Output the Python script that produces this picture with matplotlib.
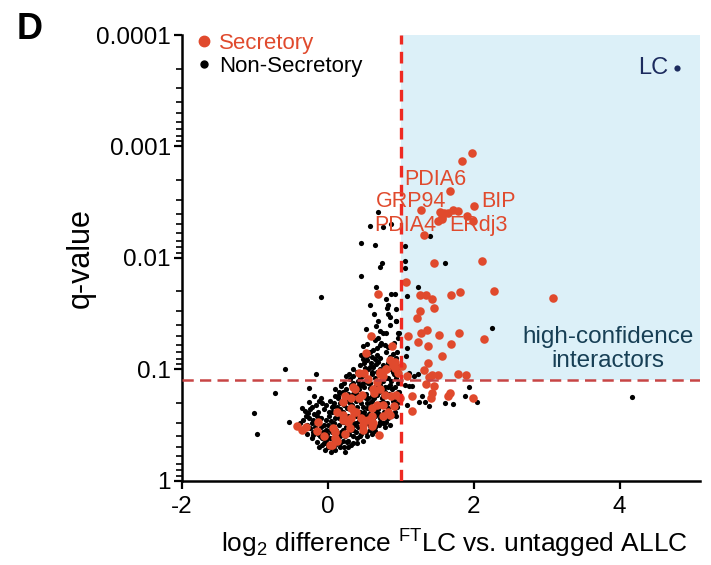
import numpy as np
import matplotlib
matplotlib.use("Agg")
import matplotlib.pyplot as plt
from matplotlib.lines import Line2D

plt.rcParams['font.family'] = ['Liberation Sans', 'DejaVu Sans']
plt.rcParams['mathtext.fontset'] = 'custom'
plt.rcParams['mathtext.rm'] = 'Liberation Sans'
plt.rcParams['mathtext.it'] = 'Liberation Sans:italic'

# ---------------- data (log2 difference, -log10 q-value) ----------------
sec_x = [1.98, 1.84, 1.67, 2.00, 1.28, 1.53, 1.59, 1.65, 1.72, 1.78, 1.56, 1.51, 1.57, 1.91, 1.99, 1.32, 1.45, 2.11, 3.08,
         1.07, 1.26, 1.34, 1.43, 1.69, 1.81, 2.27, 1.46, 1.26, 1.22, 1.36, 1.27, 1.10, 1.52, 1.79, 2.14, 1.24, 1.37, 1.69,
         1.57, 1.37, 1.32, 1.43, 1.51, 1.78, 1.89, 1.39, 1.02, 1.08, 1.34, 1.46, 1.42, 1.67, 1.65, 1.41, 1.99, 1.15, 1.15,
         0.68, 0.59, 0.88, 0.52, 0.85, 0.42, 0.50, 0.79, 0.89, 0.92, 0.71, 0.76, 0.55, 0.35, 0.47, 0.63, 0.71, 0.78, 0.86,
         0.94, 0.23, 0.32, 0.20, 0.32, 0.36, 0.12, 0.60, 0.67, 0.76, 0.83, 0.90, 0.99, 0.21, 0.28, 0.32, 0.46, 0.55, 0.62,
         0.76, 0.85, 0.48, 0.60, 0.07, 0.10, -0.14, 0.92, 0.96, -0.43, -0.36, -0.30, -0.15, -0.05, 0.05, 0.13, 0.24, 0.48,
         0.70, 0.37, 0.42, 0.62, 0.67, 0.71, 0.80, 0.92, 0.21, 0.28, 0.30, 0.39, 0.48, 0.60, 0.10, 0.03]
sec_nlq = [2.94, 2.87, 2.60, 2.47, 2.43, 2.41, 2.40, 2.40, 2.43, 2.42, 2.35, 2.33, 2.37, 2.38, 2.33, 2.21, 1.95, 1.97, 1.64,
           1.78, 1.67, 1.67, 1.63, 1.67, 1.69, 1.70, 1.55, 1.52, 1.46, 1.35, 1.33, 1.30, 1.31, 1.33, 1.27, 1.25, 1.21, 1.23,
           1.12, 1.06, 0.99, 0.95, 0.95, 0.96, 0.95, 0.93, 1.03, 0.94, 0.87, 0.85, 0.79, 0.79, 0.76, 0.74, 0.74, 0.76, 0.63,
           1.68, 1.30, 1.21, 1.15, 1.08, 0.97, 0.97, 1.00, 1.04, 1.01, 0.96, 0.94, 0.91, 0.84, 0.77, 0.79, 0.82, 0.77, 0.76,
           0.77, 0.76, 0.74, 0.71, 0.65, 0.62, 0.62, 0.65, 0.68, 0.68, 0.62, 0.67, 0.74, 0.55, 0.53, 0.56, 0.56, 0.55, 0.52,
           0.58, 0.59, 0.50, 0.49, 0.47, 0.38, 0.53, 1.07, 0.97, 0.49, 0.46, 0.48, 0.45, 0.40, 0.32, 0.36, 0.42, 0.46,
           0.41, 0.82, 0.74, 0.82, 0.89, 0.98, 1.00, 1.01, 0.59, 0.55, 0.47, 0.62, 0.55, 0.58, 0.44, 0.32]

non_x = [0.69, 0.57, 0.76, 0.86, 0.46, 0.65, 0.74, 0.71, 0.46, 1.05, 1.05, 1.06, 1.40, 1.60, 4.17, -0.09,
         1.23, 1.09, 0.94, 0.97, 2.25, 1.09, 1.07, 0.94, 1.11, 1.18, 1.24, 1.05, 1.11, 1.15, 1.94, 1.88, 1.29, 1.25,
         1.61, 1.72, 2.05, 1.33, 1.39, 1.08,
         -0.59, -0.17, -0.73, -1.02, -0.97, -0.54, -0.26,
         0.66, 0.87, 0.92, 0.80, 0.83, 0.81, 0.58, 0.63, 0.83, 0.85, 0.93, 0.69, 0.66, 0.85, 0.52, 0.71, 0.76, 0.80,
         0.96, 0.73, 0.78, 0.71, 0.67, 0.53, 0.48, 0.62, 0.58, 0.67, 0.60, 0.64, 0.69, 0.46, 0.48, 0.53, 0.85, 0.89,
         0.51, 0.58,
         -0.19, -0.09, -0.26, -0.16, -0.36, -0.32, -0.27, -0.13, -0.20, -0.11, -0.34, 0.07, 0.14, 0.19, -0.25, -0.20,
         -0.11, -0.04, -0.15, -0.06, 0.03, 0.07, 0.10, 0.12, 0.16, -0.02, 0.05, 0.12, 0.35, 0.44, 0.51, 0.30, 0.26,
         0.26, 0.21, 0.39, 0.44, 0.53, 0.67, 0.76, 0.83, 0.89, 0.67, 0.71, 0.58, 0.85, 0.94, 0.89, 0.44, 0.53, 0.35,
         0.62, 0.71, 0.58, 0.80, 0.87, 0.26, 0.32,
         0.00, 0.02, 0.05, 0.08, 0.10, 0.15, 0.18, 0.22, 0.25, 0.28, 0.30, 0.33, 0.38, 0.40, 0.42, 0.45, 0.48, 0.50,
         0.52, 0.55, 0.57, 0.60, 0.63, 0.40, 0.38, 0.42, 0.36, 0.30, 0.25, 0.18, 0.15, 0.20, 0.22, 0.12, 0.08, 0.16,
         0.20, 0.00, -0.08, -0.05, -0.02, -0.18, -0.22, -0.10, 0.46, 0.50, 0.56, 0.66, 0.70, 0.74, 0.78, 0.82, 0.88,
         0.92, 0.96, 0.98, 0.95, 0.92, 0.85, 0.78, 0.65, 0.60, 0.48, 0.40, 0.34, 0.55, 0.60, 0.65, 0.70, 0.75, 0.80,
         0.55, 0.62, 0.66, 0.72, 0.76, 0.82, 0.86, 0.40, 0.44, 0.35, -0.30, -0.24, -0.38, -0.28, -0.22, -0.12, -0.04,
         0.04, 0.10, 0.28, 0.24]
non_nlq = [2.41, 2.29, 2.28, 2.30, 2.13, 2.12, 1.95, 1.92, 1.84, 2.11, 1.97, 1.91, 2.20, 1.95, 0.75, 1.65,
           1.74, 1.66, 1.43, 1.33, 1.37, 1.19, 1.12, 1.10, 0.97, 0.94, 0.96, 0.86, 0.85, 0.85, 0.84, 0.76, 0.76, 0.71,
           0.70, 0.69, 0.71, 0.71, 0.67, 0.68,
           1.00, 0.96, 0.79, 0.61, 0.42, 0.53, 0.83,
           1.74, 1.68, 1.68, 1.63, 1.58, 1.55, 1.58, 1.50, 1.50, 1.47, 1.43, 1.43, 1.39, 1.40, 1.36, 1.34, 1.33, 1.33,
           1.33, 1.24, 1.22, 1.22, 1.19, 1.23, 1.21, 1.17, 1.16, 1.13, 1.11, 1.09, 1.07, 1.13, 1.09, 1.08, 1.11, 1.14,
           1.01, 1.02,
           0.76, 0.74, 0.71, 0.68, 0.65, 0.63, 0.61, 0.62, 0.55, 0.56, 0.55, 0.67, 0.74, 0.79, 0.47, 0.41,
           0.40, 0.44, 0.35, 0.34, 0.46, 0.50, 0.56, 0.61, 0.64, 0.37, 0.32, 0.34, 0.88, 0.92, 0.95, 0.91, 0.74,
           0.65, 0.53, 0.44, 0.40, 0.40, 0.68, 0.71, 0.65, 0.59, 0.77, 0.86, 0.83, 0.86, 0.92, 0.98, 0.62, 0.65, 0.59,
           0.56, 0.53, 0.49, 0.53, 0.58, 0.35, 0.32,
           0.50, 0.58, 0.62, 0.70, 0.76, 0.80, 0.85, 0.88, 0.82, 0.78, 0.70, 0.68, 0.72, 0.78, 0.82, 0.86, 0.88, 0.84,
           0.78, 0.74, 0.70, 0.72, 0.74, 0.66, 0.58, 0.54, 0.50, 0.46, 0.48, 0.44, 0.50, 0.62, 0.68, 0.42, 0.36, 0.30,
           0.36, 0.30, 0.38, 0.50, 0.55, 0.48, 0.52, 0.48, 0.70, 0.62, 0.60, 0.62, 0.60, 0.74, 0.80, 0.84, 0.82,
           0.84, 0.88, 0.80, 0.70, 0.62, 0.50, 0.48, 0.45, 0.42, 0.36, 0.34, 0.40, 0.92, 0.96, 0.92, 0.95, 0.90, 0.92,
           1.00, 1.02, 1.05, 1.00, 1.04, 1.06, 1.00, 0.98, 1.04, 0.94, 0.58, 0.64, 0.52, 0.42, 0.38, 0.30, 0.28,
           0.26, 0.28, 0.30, 0.26]

# densely packed non-secretory proteins in the main cloud
non_dense_x = [-0.28, -0.26, -0.21, -0.19, -0.22, -0.14, -0.13, -0.15, -0.12, -0.08, -0.07, -0.09, -0.06, -0.08,
               -0.02, -0.01, -0.03, 0.01, -0.02, 0.04, 0.03, 0.05, 0.04, 0.06, 0.03, 0.10, 0.11, 0.09, 0.12, 0.10,
               0.16, 0.17, 0.15, 0.17, 0.16, 0.14, 0.18, 0.22, 0.23, 0.21, 0.24, 0.22, 0.21, 0.25,
               0.28, 0.29, 0.27, 0.30, 0.28, 0.31, 0.29, 0.34, 0.35, 0.33, 0.36, 0.34, 0.37, 0.35,
               0.40, 0.41, 0.39, 0.42, 0.40, 0.43, 0.41, 0.46, 0.47, 0.45, 0.48, 0.46, 0.47, 0.49,
               0.52, 0.53, 0.51, 0.54, 0.52, 0.55, 0.53, 0.58, 0.59, 0.57, 0.60, 0.58, 0.61, 0.59,
               0.64, 0.65, 0.63, 0.66, 0.64, 0.67, 0.65, 0.70, 0.71, 0.69, 0.72, 0.70, 0.73, 0.71, 0.69,
               0.76, 0.77, 0.75, 0.78, 0.76, 0.79, 0.82, 0.83, 0.81, 0.84, 0.82, 0.85, 0.83,
               0.88, 0.89, 0.87, 0.90, 0.88, 0.91, 0.94, 0.95, 0.93, 0.96, 0.94, 0.97, 0.95, 0.96, 0.94]
non_dense_nlq = [0.50, 0.56, 0.44, 0.60, 0.66, 0.42, 0.52, 0.58, 0.72, 0.32, 0.44, 0.56, 0.64, 0.70,
                 0.34, 0.42, 0.46, 0.62, 0.68, 0.30, 0.38, 0.44, 0.54, 0.66, 0.72, 0.32, 0.46, 0.52, 0.66, 0.82,
                 0.34, 0.40, 0.56, 0.62, 0.70, 0.76, 0.86, 0.30, 0.40, 0.46, 0.58, 0.74, 0.80, 0.94,
                 0.36, 0.42, 0.58, 0.64, 0.72, 0.86, 0.96, 0.34, 0.46, 0.54, 0.64, 0.78, 0.84, 1.00,
                 0.38, 0.48, 0.52, 0.60, 0.74, 0.86, 0.90, 0.42, 0.46, 0.60, 0.66, 0.76, 0.94, 1.06,
                 0.44, 0.52, 0.58, 0.70, 0.74, 0.88, 1.12, 0.46, 0.54, 0.64, 0.76, 0.88, 0.98, 1.06,
                 0.48, 0.58, 0.66, 0.78, 0.84, 0.98, 1.26, 0.50, 0.56, 0.64, 0.70, 0.80, 0.90, 1.10, 1.28,
                 0.52, 0.62, 0.76, 0.84, 0.98, 1.16, 0.56, 0.62, 0.70, 0.78, 0.92, 1.02, 1.20,
                 0.60, 0.72, 0.90, 0.96, 1.06, 1.24, 0.58, 0.66, 0.74, 0.80, 0.96, 1.02, 1.16, 1.28, 1.54]

lc_x, lc_nlq = 4.79, 3.70

labels = ["PDIA6", "GRP94", "PDIA4", "BIP", "ERdj3"]
label_x = [1.04, 0.66, 0.63, 2.10, 1.66]
label_nlq = [2.70, 2.51, 2.29, 2.51, 2.29]

fc_cut = 1.0
q_cut = 0.124

yticks = [1e-4, 1e-3, 1e-2, 1e-1, 1]
ytick_labels = ["0.0001", "0.001", "0.01", "0.1", "1"]
xticks = [-2, 0, 2, 4]

# ---------------- styling ----------------
RED = '#E04A2D'
LINE_RED = '#EE2A22'
HLINE = '#C84545'
BLUE_BG = '#DCF0F8'
NAVY = '#1C2B5E'
TEAL = '#173F55'

fig = plt.figure(figsize=(7.11, 5.65), dpi=100)
ax = fig.add_axes([0.256, 0.149, 0.7285, 0.789])

xmin, xmax = -2, 5.1
ax.set_xlim(xmin, xmax)
ax.set_yscale('log')
ax.set_ylim(1, 1e-4)

# shaded high-confidence region
ax.fill_between([fc_cut, xmax], [q_cut, q_cut], [1e-4, 1e-4], color=BLUE_BG, lw=0, zorder=0)

sec_q = 10 ** (-np.array(sec_nlq))
non_q = 10 ** (-np.array(non_nlq))
non_dense_q = 10 ** (-np.array(non_dense_nlq))

ax.scatter(non_x, non_q, s=14, color='black', lw=0, zorder=2)
ax.scatter(non_dense_x, non_dense_q, s=14, color='black', lw=0, zorder=2)
ax.scatter(sec_x, sec_q, s=38, color=RED, lw=0, zorder=3)
ax.scatter([lc_x], [10 ** (-lc_nlq)], s=20, color=NAVY, lw=0, zorder=3)
ax.text(lc_x - 0.12, 10 ** (-lc_nlq), "LC", color=NAVY, fontsize=17, ha='right', va='center', zorder=5)

ax.axvline(fc_cut, color=LINE_RED, lw=2.4, ls=(0, (3.5, 2.2)), zorder=4)
ax.axhline(q_cut, color=HLINE, lw=1.8, ls=(0, (4.5, 2.5)), zorder=4)

for t, lx, ly in zip(labels, label_x, label_nlq):
    ax.text(lx, 10 ** (-ly), t, color=RED, fontsize=15.5, ha='left', va='center', zorder=6)

ax.text(3.84, 10 ** (-1.18), "high-confidence\ninteractors", color=TEAL, fontsize=17.5,
        ha='center', va='center', linespacing=1.1, zorder=6)

ax.set_yticks(yticks)
ax.set_yticklabels(ytick_labels)
ax.set_xticks(xticks)
ax.set_xticklabels([str(v) for v in xticks])
ax.tick_params(axis='both', which='major', labelsize=17.5, width=1.6, length=6, direction='out')
ax.tick_params(axis='y', which='major', pad=2)
ax.tick_params(axis='x', which='major', pad=5)
ax.tick_params(axis='y', which='minor', width=1.2, length=4, direction='out')
ax.tick_params(axis='x', which='minor', bottom=False)

for s in ['top', 'right']:
    ax.spines[s].set_visible(False)
for s in ['left', 'bottom']:
    ax.spines[s].set_linewidth(1.8)

ax.set_ylabel("q-value", fontsize=22)
ax.yaxis.set_label_coords(-0.166, 0.5)
ax.set_xlabel(r"log$_\mathrm{2}$ difference $^\mathrm{FT}$LC vs. untagged ALLC", fontsize=19)
ax.xaxis.set_label_coords(0.525, -0.105)

handles = [Line2D([], [], marker='o', ls='', color=RED, markersize=7.5),
           Line2D([], [], marker='o', ls='', color='black', markersize=5)]
leg = ax.legend(handles, ["Secretory", "Non-Secretory"], loc='upper left', bbox_to_anchor=(0.0, 1.04),
                frameon=False, fontsize=16, handlelength=0.6, handletextpad=0.35, labelspacing=0.1,
                borderaxespad=0.3)
leg.get_texts()[0].set_color(RED)
leg.get_texts()[1].set_color('black')

fig.text(0.042, 0.948, "D", fontsize=26, fontweight='bold', ha='center', va='center')

fig.savefig("out.png", dpi=100)
